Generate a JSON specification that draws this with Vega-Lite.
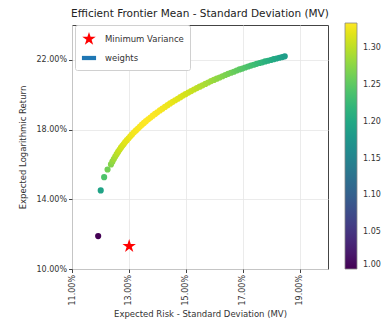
{
  "$schema": "https://vega.github.io/schema/vega-lite/v6.json",
  "autosize": "none",
  "width": 256,
  "height": 244,
  "padding": {"left": 72, "top": 25, "right": 62, "bottom": 54},
  "config": {
    "font": "DejaVu Sans",
    "view": {"stroke": "#444", "strokeWidth": 1},
    "axis": {"labelFontSize": 8, "titleFontSize": 8.5, "labelColor": "#333", "titleColor": "#333", "titleFontWeight": "normal", "tickColor": "#444", "tickSize": 3.5, "domain": false, "grid": true, "gridColor": "#e6e6e6", "gridWidth": 0.8, "labelPadding": 2, "labelOverlap": false},
    "legend": {"labelColor": "#333", "titleColor": "#333"},
    "title": {"fontSize": 10.5, "fontWeight": "normal", "color": "#222", "offset": 4}
  },
  "title": "Efficient Frontier Mean - Standard Deviation (MV)",
  "data": {"values": [
      {"kind": "frontier", "risk": 11.92, "ret": 11.89, "ratio": 1.000},
      {"kind": "frontier", "risk": 12.01, "ret": 14.51, "ratio": 1.194},
      {"kind": "frontier", "risk": 12.13, "ret": 15.27, "ratio": 1.241},
      {"kind": "frontier", "risk": 12.25, "ret": 15.71, "ratio": 1.263},
      {"kind": "frontier", "risk": 12.37, "ret": 16.00, "ratio": 1.273},
      {"kind": "frontier", "risk": 12.42, "ret": 16.16, "ratio": 1.280},
      {"kind": "frontier", "risk": 12.47, "ret": 16.31, "ratio": 1.286},
      {"kind": "frontier", "risk": 12.52, "ret": 16.45, "ratio": 1.292},
      {"kind": "frontier", "risk": 12.57, "ret": 16.59, "ratio": 1.297},
      {"kind": "frontier", "risk": 12.62, "ret": 16.72, "ratio": 1.302},
      {"kind": "frontier", "risk": 12.67, "ret": 16.84, "ratio": 1.306},
      {"kind": "frontier", "risk": 12.72, "ret": 16.96, "ratio": 1.310},
      {"kind": "frontier", "risk": 12.77, "ret": 17.07, "ratio": 1.313},
      {"kind": "frontier", "risk": 12.82, "ret": 17.17, "ratio": 1.315},
      {"kind": "frontier", "risk": 12.87, "ret": 17.28, "ratio": 1.319},
      {"kind": "frontier", "risk": 12.93, "ret": 17.39, "ratio": 1.321},
      {"kind": "frontier", "risk": 12.99, "ret": 17.50, "ratio": 1.323},
      {"kind": "frontier", "risk": 13.05, "ret": 17.61, "ratio": 1.325},
      {"kind": "frontier", "risk": 13.11, "ret": 17.72, "ratio": 1.327},
      {"kind": "frontier", "risk": 13.18, "ret": 17.84, "ratio": 1.329},
      {"kind": "frontier", "risk": 13.25, "ret": 17.95, "ratio": 1.330},
      {"kind": "frontier", "risk": 13.32, "ret": 18.06, "ratio": 1.331},
      {"kind": "frontier", "risk": 13.39, "ret": 18.17, "ratio": 1.332},
      {"kind": "frontier", "risk": 13.46, "ret": 18.28, "ratio": 1.333},
      {"kind": "frontier", "risk": 13.53, "ret": 18.38, "ratio": 1.333},
      {"kind": "frontier", "risk": 13.60, "ret": 18.48, "ratio": 1.334},
      {"kind": "frontier", "risk": 13.68, "ret": 18.59, "ratio": 1.334},
      {"kind": "frontier", "risk": 13.76, "ret": 18.69, "ratio": 1.333},
      {"kind": "frontier", "risk": 13.84, "ret": 18.80, "ratio": 1.333},
      {"kind": "frontier", "risk": 13.92, "ret": 18.90, "ratio": 1.333},
      {"kind": "frontier", "risk": 14.00, "ret": 18.99, "ratio": 1.331},
      {"kind": "frontier", "risk": 14.09, "ret": 19.10, "ratio": 1.331},
      {"kind": "frontier", "risk": 14.18, "ret": 19.20, "ratio": 1.329},
      {"kind": "frontier", "risk": 14.27, "ret": 19.30, "ratio": 1.328},
      {"kind": "frontier", "risk": 14.36, "ret": 19.40, "ratio": 1.326},
      {"kind": "frontier", "risk": 14.45, "ret": 19.50, "ratio": 1.325},
      {"kind": "frontier", "risk": 14.54, "ret": 19.59, "ratio": 1.323},
      {"kind": "frontier", "risk": 14.63, "ret": 19.68, "ratio": 1.321},
      {"kind": "frontier", "risk": 14.72, "ret": 19.77, "ratio": 1.319},
      {"kind": "frontier", "risk": 14.81, "ret": 19.86, "ratio": 1.317},
      {"kind": "frontier", "risk": 14.90, "ret": 19.95, "ratio": 1.315},
      {"kind": "frontier", "risk": 14.99, "ret": 20.03, "ratio": 1.313},
      {"kind": "frontier", "risk": 15.09, "ret": 20.12, "ratio": 1.310},
      {"kind": "frontier", "risk": 15.19, "ret": 20.21, "ratio": 1.307},
      {"kind": "frontier", "risk": 15.29, "ret": 20.30, "ratio": 1.305},
      {"kind": "frontier", "risk": 15.39, "ret": 20.38, "ratio": 1.302},
      {"kind": "frontier", "risk": 15.49, "ret": 20.46, "ratio": 1.298},
      {"kind": "frontier", "risk": 15.59, "ret": 20.54, "ratio": 1.295},
      {"kind": "frontier", "risk": 15.69, "ret": 20.62, "ratio": 1.292},
      {"kind": "frontier", "risk": 15.79, "ret": 20.70, "ratio": 1.289},
      {"kind": "frontier", "risk": 15.89, "ret": 20.78, "ratio": 1.286},
      {"kind": "frontier", "risk": 15.99, "ret": 20.85, "ratio": 1.283},
      {"kind": "frontier", "risk": 16.09, "ret": 20.92, "ratio": 1.279},
      {"kind": "frontier", "risk": 16.19, "ret": 20.99, "ratio": 1.276},
      {"kind": "frontier", "risk": 16.29, "ret": 21.06, "ratio": 1.272},
      {"kind": "frontier", "risk": 16.39, "ret": 21.13, "ratio": 1.269},
      {"kind": "frontier", "risk": 16.49, "ret": 21.20, "ratio": 1.266},
      {"kind": "frontier", "risk": 16.59, "ret": 21.26, "ratio": 1.262},
      {"kind": "frontier", "risk": 16.69, "ret": 21.32, "ratio": 1.258},
      {"kind": "frontier", "risk": 16.79, "ret": 21.39, "ratio": 1.255},
      {"kind": "frontier", "risk": 16.89, "ret": 21.45, "ratio": 1.251},
      {"kind": "frontier", "risk": 16.99, "ret": 21.50, "ratio": 1.247},
      {"kind": "frontier", "risk": 17.09, "ret": 21.56, "ratio": 1.243},
      {"kind": "frontier", "risk": 17.19, "ret": 21.62, "ratio": 1.240},
      {"kind": "frontier", "risk": 17.29, "ret": 21.67, "ratio": 1.236},
      {"kind": "frontier", "risk": 17.39, "ret": 21.72, "ratio": 1.232},
      {"kind": "frontier", "risk": 17.49, "ret": 21.77, "ratio": 1.228},
      {"kind": "frontier", "risk": 17.59, "ret": 21.82, "ratio": 1.224},
      {"kind": "frontier", "risk": 17.69, "ret": 21.86, "ratio": 1.219},
      {"kind": "frontier", "risk": 17.79, "ret": 21.91, "ratio": 1.215},
      {"kind": "frontier", "risk": 17.89, "ret": 21.95, "ratio": 1.211},
      {"kind": "frontier", "risk": 17.99, "ret": 21.99, "ratio": 1.207},
      {"kind": "frontier", "risk": 18.09, "ret": 22.04, "ratio": 1.203},
      {"kind": "frontier", "risk": 18.19, "ret": 22.08, "ratio": 1.199},
      {"kind": "frontier", "risk": 18.29, "ret": 22.12, "ratio": 1.195},
      {"kind": "frontier", "risk": 18.39, "ret": 22.16, "ratio": 1.190},
      {"kind": "frontier", "risk": 18.48, "ret": 22.20, "ratio": 1.187},
      {"kind": "Minimum Variance", "risk": 13.01, "ret": 11.31}
  ]},
  "layer": [
    {
      "transform": [{"filter": "datum.kind === 'frontier'"}],
      "mark": {"type": "point", "filled": true, "size": 38, "opacity": 1},
      "encoding": {
        "x": {"field": "risk", "type": "quantitative", "scale": {"domain": [11, 20], "nice": false, "zero": false},
          "axis": {"values": [11, 12, 13, 14, 15, 16, 17, 18, 19, 20], "labelExpr": "format(datum.value, '.2f') + '%'", "labelAngle": -90, "labelOverlap": false, "title": "Expected Risk - Standard Deviation (MV)", "titlePadding": 4}},
        "y": {"field": "ret", "type": "quantitative", "scale": {"domain": [10, 24], "nice": false, "zero": false},
          "axis": {"values": [10, 12, 14, 16, 18, 20, 22, 24], "labelExpr": "format(datum.value, '.2f') + '%'", "labelOverlap": false, "title": "Expected Logarithmic Return", "titlePadding": 8}},
        "color": {"field": "ratio", "type": "quantitative", "scale": {"scheme": "viridis", "domain": [1.0, 1.334]},
          "legend": {"orient": "none", "legendX": 273, "legendY": -2, "direction": "vertical", "gradientLength": 246, "gradientThickness": 12, "gradientStrokeColor": "#888", "gradientStrokeWidth": 0.8, "values": [1.0, 1.05, 1.1, 1.15, 1.2, 1.25, 1.3], "format": ".2f", "labelFontSize": 8, "labelOffset": 6, "title": null}}
      }
    },
    {
      "transform": [{"filter": "datum.kind === 'Minimum Variance'"}],
      "mark": {"type": "point", "filled": true, "size": 200, "opacity": 1},
      "encoding": {
        "x": {"field": "risk", "type": "quantitative"},
        "y": {"field": "ret", "type": "quantitative"},
        "fill": {"field": "kind", "type": "nominal",
          "scale": {"domain": ["Minimum Variance", "weights"], "range": ["red", "#1f77b4"]},
          "legend": {"orient": "none", "legendX": 3, "legendY": 0, "title": null, "padding": 6, "rowPadding": 2, "strokeColor": "#d0d0d0", "fillColor": "white", "cornerRadius": 2, "labelFontSize": 8.5, "labelOffset": 8, "symbolSize": 200, "symbolOpacity": 1}},
        "shape": {"field": "kind", "type": "nominal",
          "scale": {"domain": ["Minimum Variance", "weights"], "range": ["M0,-1L0.2245,-0.309L0.951,-0.309L0.363,0.118L0.588,0.809L0,0.382L-0.588,0.809L-0.363,0.118L-0.951,-0.309L-0.2245,-0.309Z", "M-1,-0.3L1,-0.3L1,0.3L-1,0.3Z"]},
          "legend": {"orient": "none", "legendX": 3, "legendY": 0, "title": null, "padding": 6, "rowPadding": 2, "strokeColor": "#d0d0d0", "fillColor": "white", "cornerRadius": 2, "labelFontSize": 8.5, "labelOffset": 8, "symbolSize": 200, "symbolOpacity": 1,
            "encode": {"symbols": {"update": {"size": {"signal": "datum.value === 'weights' ? 250 : 170"}}}}}}
      }
    }
  ]
}
